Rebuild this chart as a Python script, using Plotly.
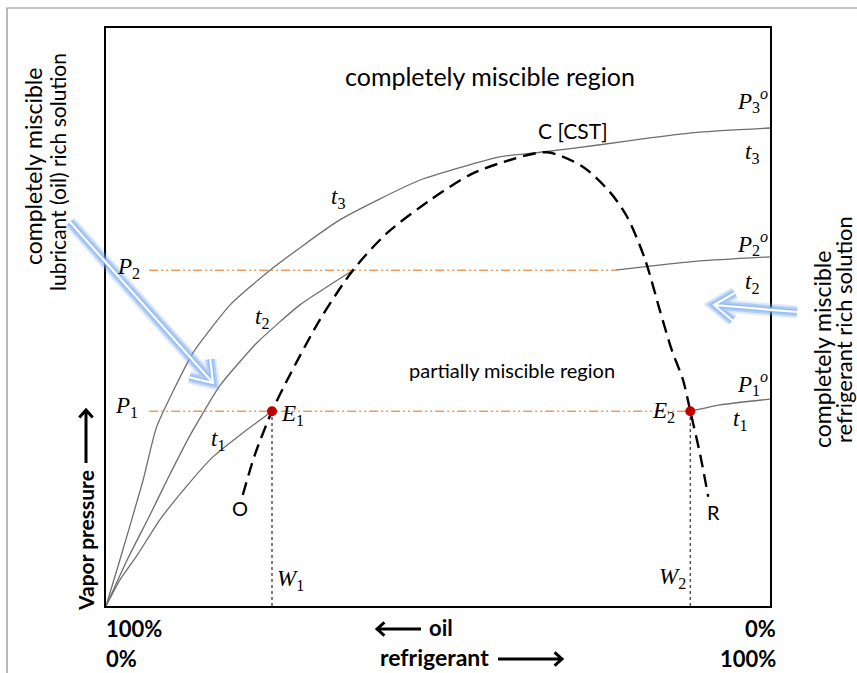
import numpy as np
import plotly.graph_objects as go

# ---- data (x: refrigerant %, y: vapor pressure, relative units) ----
t3_x = [0, 2.1, 5.6, 7.6, 13.1, 18.7, 24.7, 35.2, 47.3, 59.3, 65.4, 74.4, 81.9, 89.5, 100]
t3_y = [0, 8.0, 21.8, 30.9, 43.8, 52.1, 58.1, 66.8, 73.7, 77.7, 78.5, 79.8, 81.0, 82.0, 82.7]

t2_left_x = [0, 3.2, 6.6, 9.2, 12.7, 17.2, 22.7, 29.2, 37.2]
t2_left_y = [0, 8.0, 15.7, 21.8, 29.6, 38.2, 45.5, 52.1, 58.1]
t2_right_x = [76.7, 81.9, 89.5, 100]
t2_right_y = [58.1, 58.8, 59.7, 60.4]

t1_left_x = [0, 2.1, 4.7, 8.1, 11.9, 16.1, 20.2, 25.0]
t1_left_y = [0, 4.5, 8.8, 14.9, 20.4, 25.8, 29.6, 33.7]
t1_right_x = [88.0, 92.5, 100]
t1_right_y = [33.7, 34.8, 35.8]

bin_x = [20.6, 22.4, 25.0, 27.3, 32.2, 37.2, 42.3, 48.8, 54.8, 59.3, 66.4, 71.8, 75.9, 78.5,
         81.2, 83.4, 85.2, 86.9, 88.0, 89.5, 90.7]
bin_y = [19.2, 26.1, 33.7, 39.1, 49.5, 58.1, 64.5, 70.2, 74.6, 76.6, 78.5, 76.0, 71.6, 67.3,
         59.9, 51.2, 44.3, 39.1, 33.7, 26.1, 18.9]

P1 = 33.7
P2 = 58.1
W1 = 25.0
W2 = 88.0
P2_right_start = 76.7
p_line_start = 6.5

# ---- layout geometry (pixels) ----
W, H = 857, 673
L, R, T, B = 106, 87, 28, 67
PW, PH = W - L - R, H - T - B


def px(x):
    return (x - L) / PW


def py(y):
    return (T + PH - y) / PH


GRAY = "#6e6e6e"
ORANGE = "#F39B55"
RED = "#C00000"
FONT = "Lato"
MATH = "Liberation Serif"

fig = go.Figure()

gray_line = dict(color=GRAY, width=1.3, shape="spline", smoothing=0.5)
for xs, ys in [(t3_x, t3_y), (t2_left_x, t2_left_y), (t2_right_x, t2_right_y),
               (t1_left_x, t1_left_y), (t1_right_x, t1_right_y)]:
    fig.add_trace(go.Scatter(x=xs, y=ys, mode="lines", line=gray_line, hoverinfo="skip"))

# orange dash-dot-dot pressure lines
dd = "9px,3px,2px,3px,2px,3px"
fig.add_trace(go.Scatter(x=[p_line_start, W2], y=[P1, P1], mode="lines",
                         line=dict(color=ORANGE, width=1.6, dash=dd)))
fig.add_trace(go.Scatter(x=[p_line_start, P2_right_start], y=[P2, P2], mode="lines",
                         line=dict(color=ORANGE, width=1.6, dash=dd)))

# dotted composition lines
for w in (W1, W2):
    fig.add_trace(go.Scatter(x=[w, w], y=[0, P1], mode="lines",
                             line=dict(color="#555555", width=1.5, dash="dot")))

# binodal dashed curve
fig.add_trace(go.Scatter(x=bin_x, y=bin_y, mode="lines",
                         line=dict(color="black", width=2.4, dash="13px,7px",
                                   shape="spline", smoothing=0.8)))

# equilibrium points
fig.add_trace(go.Scatter(x=[W1, W2], y=[P1, P1], mode="markers",
                         marker=dict(color=RED, size=10)))

ann = []


def text(xp, yp, s, size=18, font=FONT, color="black", xanchor="center", angle=0, yanchor="middle"):
    ann.append(dict(x=px(xp), y=py(yp), xref="paper", yref="paper", text=s, showarrow=False,
                    xanchor=xanchor, yanchor=yanchor, textangle=angle,
                    font=dict(family=font, size=size, color=color)))


text(490, 76, "completely miscible region", 25)
text(512, 370, "partially miscible region", 20)
text(573, 130, "C [CST]", 21)
text(240, 508, "O", 20)
text(713, 512, "R", 20)

mi = dict(size=23, font=MATH)
text(752, 100, "<i>P</i><sub>3</sub><i><sup>o</sup></i>", **mi)
text(752, 153, "<i>t</i><sub>3</sub>", **mi)
text(752, 244, "<i>P</i><sub>2</sub><i><sup>o</sup></i>", **mi)
text(752, 283, "<i>t</i><sub>2</sub>", **mi)
text(752, 383, "<i>P</i><sub>1</sub><i><sup>o</sup></i>", **mi)
text(740, 420, "<i>t</i><sub>1</sub>", **mi)
text(128, 268, "<i>P</i><sub>2</sub>", **mi)
text(126, 407, "<i>P</i><sub>1</sub>", **mi)
text(338, 198, "<i>t</i><sub>3</sub>", **mi)
text(262, 318, "<i>t</i><sub>2</sub>", **mi)
text(218, 440, "<i>t</i><sub>1</sub>", **mi)
text(292, 415, "<i>E</i><sub>1</sub>", **mi)
text(663, 412, "<i>E</i><sub>2</sub>", **mi)
text(290, 580, "<i>W</i><sub>1</sub>", **mi)
text(672, 578, "<i>W</i><sub>2</sub>", **mi)

b = dict(size=22)
text(104, 628, "<b>100%</b>", xanchor="left", **b)
text(778, 628, "<b>0%</b>", xanchor="right", **b)
text(104, 658, "<b>0%</b>", xanchor="left", **b)
text(778, 658, "<b>100%</b>", xanchor="right", **b)
text(427, 627, "<b>oil</b>", xanchor="left", **b)
text(491, 657, "<b>refrigerant</b>", xanchor="right", size=23)

text(85, 541, "<b>Vapor pressure</b>", size=21, angle=-90)
text(33, 167, "completely miscible", size=23, angle=-90)
text(57, 172, "lubricant (oil) rich solution", size=21, angle=-90)
text(822, 350, "completely miscible", size=23, angle=-90)
text(843, 330, "refrigerant rich solution", size=22, angle=-90)

shapes = []
# outer frame
shapes.append(dict(type="rect", xref="paper", yref="paper", x0=px(7), x1=px(875),
                   y0=py(690), y1=py(8), line=dict(color="#8a8a8a", width=1.2)))


def head_pts(tail, tip, head_len, ang):
    d = np.array([tip[0] - tail[0], tip[1] - tail[1]], float)
    d /= np.linalg.norm(d)
    pts = []
    for s in (1, -1):
        a = np.radians(ang * s)
        rot = np.array([[np.cos(a), -np.sin(a)], [np.sin(a), np.cos(a)]])
        v = rot @ (-d) * head_len
        pts.append((tip[0] + v[0], tip[1] + v[1]))
    return pts


def arrow_path(tail, tip, head_len, ang):
    p = head_pts(tail, tip, head_len, ang)
    return (f"M {px(tail[0])},{py(tail[1])} L {px(tip[0])},{py(tip[1])} "
            f"M {px(p[0][0])},{py(p[0][1])} L {px(tip[0])},{py(tip[1])} L {px(p[1][0])},{py(p[1][1])}")


def glow_arrow(tail, tip, head_len=24, ang=35):
    path = arrow_path(tail, tip, head_len, ang)
    for col, wd in [("rgba(120,165,235,0.22)", 13), ("rgba(110,160,235,0.4)", 9),
                    ("rgba(140,185,245,0.8)", 5), ("white", 2.2)]:
        shapes.append(dict(type="path", xref="paper", yref="paper", path=path,
                           line=dict(color=col, width=wd)))


def black_arrow(tail, tip, head_len=10, ang=42, wd=3):
    shapes.append(dict(type="path", xref="paper", yref="paper",
                       path=arrow_path(tail, tip, head_len, ang),
                       line=dict(color="black", width=wd)))


glow_arrow((70, 222), (213, 383))
glow_arrow((797, 312), (714, 305))
black_arrow((421, 629), (377, 629))
black_arrow((498, 659), (562, 659))
black_arrow((86, 463), (86, 410))

fig.update_layout(
    width=W, height=H, margin=dict(l=L, r=R, t=T, b=B),
    paper_bgcolor="white", plot_bgcolor="white", showlegend=False,
    xaxis=dict(range=[0, 100], showgrid=False, zeroline=False, showticklabels=False, ticks="",
               showline=True, mirror=True, linecolor="black", linewidth=2),
    yaxis=dict(range=[0, 100], showgrid=False, zeroline=False, showticklabels=False, ticks="",
               showline=True, mirror=True, linecolor="black", linewidth=2),
    annotations=ann, shapes=shapes,
)

fig.write_html("out.html")
